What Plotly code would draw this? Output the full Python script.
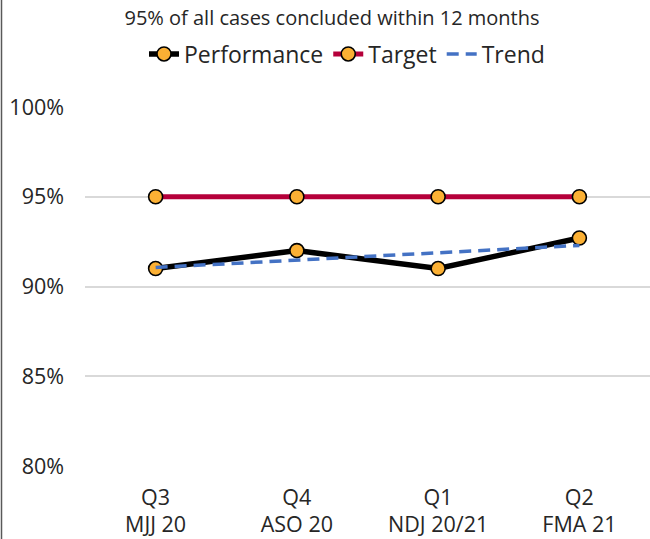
import plotly.graph_objects as go

# Quarters shown along the x axis
quarters = ["Q3<br>MJJ 20", "Q4<br>ASO 20", "Q1<br>NDJ 20/21", "Q2<br>FMA 21"]

# Share of cases concluded within 12 months (%)
performance = [91.0, 92.0, 91.0, 92.7]
target = [95.0, 95.0, 95.0, 95.0]
trend = [91.06, 91.47, 91.88, 92.29]

y_ticks = [80, 85, 90, 95, 100]
y_tick_text = ["80%", "85%", "90%", "95%", "100%"]

FONT = "Open Sans"
TEXT = "#262626"
marker_style = dict(size=14, color="#FBB034", line=dict(color="#000000", width=1.6))

fig = go.Figure()
fig.add_trace(go.Scatter(
    x=quarters, y=performance, name="Performance", mode="lines+markers",
    line=dict(color="#000000", width=5.5), marker=marker_style,
))
fig.add_trace(go.Scatter(
    x=quarters, y=target, name="Target", mode="lines+markers",
    line=dict(color="#B5003A", width=5), marker=marker_style,
))
fig.add_trace(go.Scatter(
    x=quarters, y=trend, name="Trend", mode="lines",
    line=dict(color="#4472C4", width=3.5, dash="12px,7px"),
))

L, R, T, B = 85, 0, 107, 73
W, H = 650, 539
plot_w = W - L - R

fig.update_layout(
    width=W, height=H,
    margin=dict(l=L, r=R, t=T, b=B),
    paper_bgcolor="white", plot_bgcolor="white",
    font=dict(family=FONT, color=TEXT),
    title=dict(
        text="95% of all cases concluded within 12 months",
        x=332 / W, xref="container", xanchor="center",
        y=1 - 18 / H, yanchor="middle",
        font=dict(size=20, family=FONT, color=TEXT),
    ),
    legend=dict(
        orientation="h", x=(347 - L) / plot_w, xanchor="center", xref="paper",
        y=1 - 54 / H, yanchor="middle", yref="container",
        font=dict(size=23, family=FONT, color=TEXT),
        tracegroupgap=0,
    ),
    showlegend=True,
    xaxis=dict(
        type="category", showgrid=False, zeroline=False, showline=False,
        tickfont=dict(size=21.5, family=FONT, color=TEXT),
        ticks="", range=[-0.5, 3.5], ticklabelstandoff=16,
    ),
    yaxis=dict(
        range=[80, 100], tickvals=y_ticks, ticktext=y_tick_text,
        showgrid=True, gridcolor="#D9D9D9", gridwidth=1.5,
        zeroline=False, showline=False, ticks="",
        ticklabelstandoff=20,
        tickfont=dict(size=21.5, family=FONT, color=TEXT),
    ),
    shapes=[
        dict(
            type="line", xref="paper", yref="paper",
            x0=-(L - 1.5) / plot_w, x1=-(L - 1.5) / plot_w,
            y0=-B / (H - T - B), y1=1 + T / (H - T - B),
            line=dict(color="#595959", width=1.5),
        )
    ],
)

fig.write_html("out.html")
